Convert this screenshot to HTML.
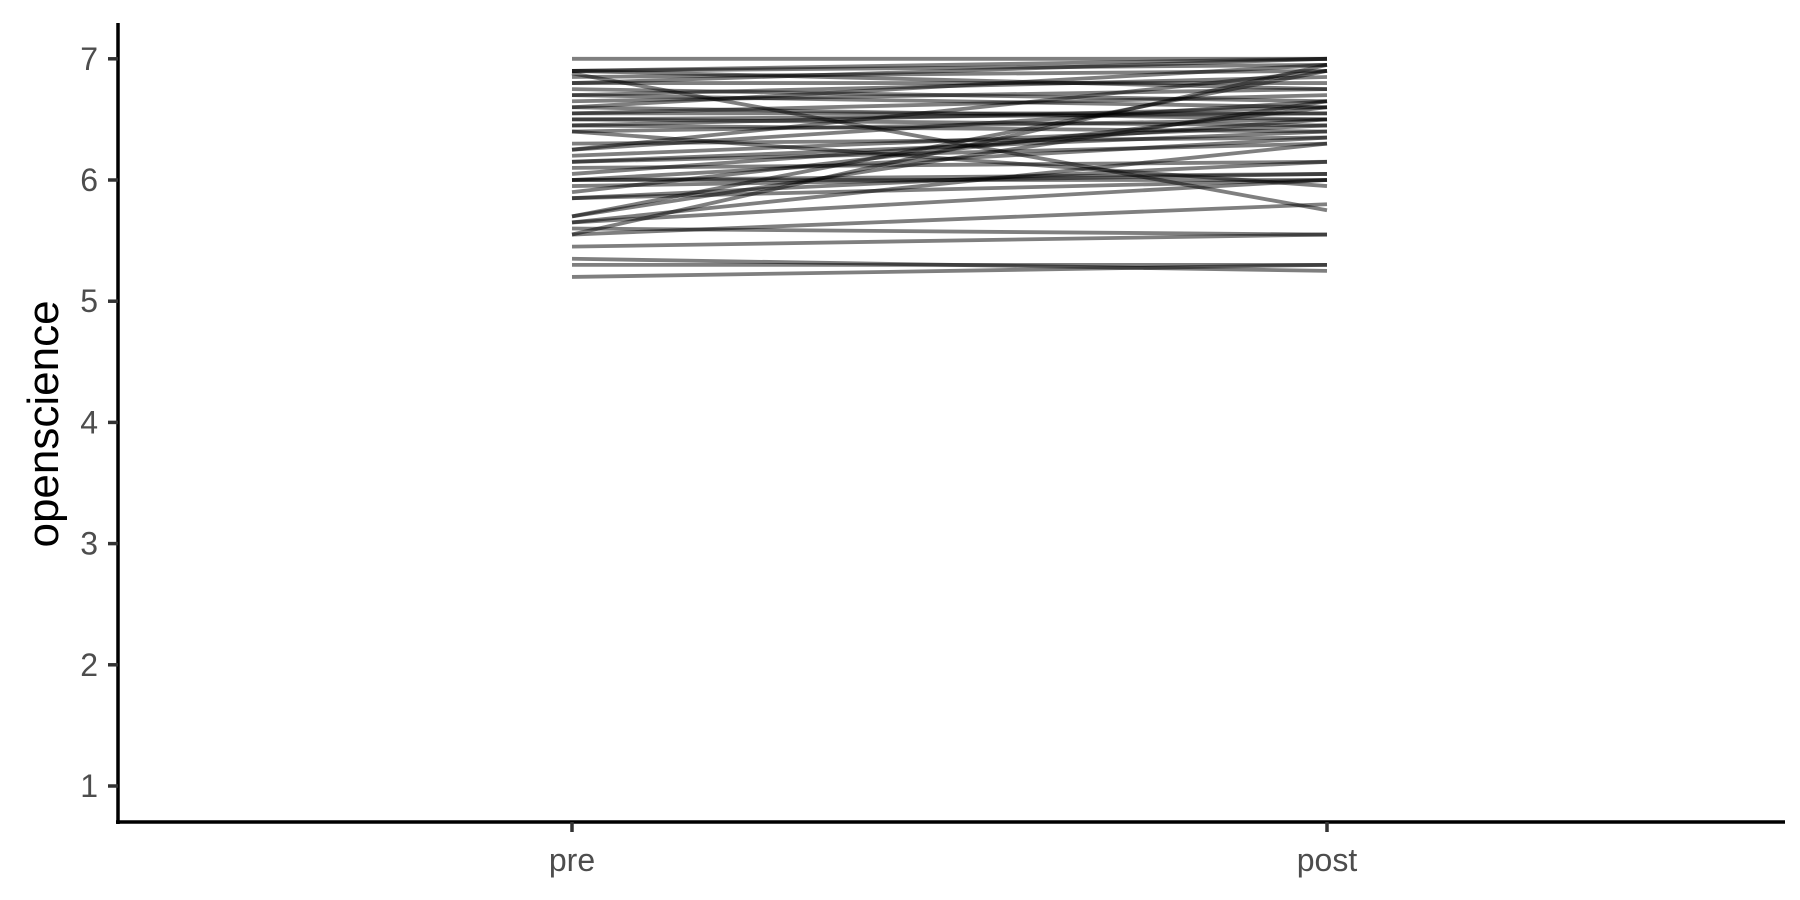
<!DOCTYPE html>
<html><head><meta charset="utf-8"><style>
html,body{margin:0;padding:0;background:#fff;}
svg{display:block;font-family:"Liberation Sans",sans-serif;}
</style></head><body>
<svg id="chart" width="1800" height="900" viewBox="0 0 1800 900" xmlns="http://www.w3.org/2000/svg">
<g id="lines"></g>
<g id="axes"></g>
</svg>
<script>
const categories = ["pre","post"];
const yTicks = [1,2,3,4,5,6,7];
const preValues  = [7.0,6.9,6.9,6.88,6.85,6.8,6.8,6.75,6.7,6.7,6.65,6.6,6.6,6.55,6.5,6.5,6.45,6.45,6.4,6.4,6.3,6.25,6.25,6.2,6.15,6.15,6.1,6.05,6.0,6.0,5.95,5.9,5.85,5.85,5.7,5.7,5.65,5.65,5.6,5.55,5.55,5.45,5.35,5.3,5.2,6.9,6.55,6.0];
const postValues = [7.0,6.95,7.0,5.75,6.9,6.8,7.0,6.65,6.85,6.6,6.75,6.5,6.95,6.7,6.55,6.45,6.4,6.6,5.95,6.5,6.35,6.65,6.9,6.45,6.3,6.4,6.15,6.5,6.0,6.35,6.05,6.6,6.0,6.15,6.65,6.9,6.0,6.3,5.55,5.8,6.95,5.55,5.25,5.3,5.3,6.75,6.55,6.05];
const NS="http://www.w3.org/2000/svg";
const xLeft=118, xRight=1785, yAxisTop=23, yAxisBottom=822;
function xPos(i){ return 572 + i*(1327-572); }
function yPos(v){ return 786 - (v-1)*121.2; }
function mk(tag,attrs,parent){const e=document.createElementNS(NS,tag);for(const k in attrs)e.setAttribute(k,attrs[k]);parent.appendChild(e);return e;}
const lg=document.getElementById('lines');
for(let i=0;i<preValues.length;i++){
  const l=mk('line',{x1:xPos(0),y1:yPos(preValues[i]),x2:xPos(1),y2:yPos(postValues[i]),stroke:'#000','stroke-opacity':0.5,'stroke-width':3.8},lg);
  
  
}
const ax=document.getElementById('axes');
const ya=mk('line',{x1:xLeft,y1:yAxisTop,x2:xLeft,y2:yAxisBottom+2,stroke:'#000','stroke-width':3.5},ax);


const xa=mk('line',{x1:xLeft-2,y1:yAxisBottom,x2:xRight,y2:yAxisBottom,stroke:'#000','stroke-width':3.5},ax);


yTicks.forEach(v=>{
  const t=mk('line',{x1:xLeft-10,y1:yPos(v),x2:xLeft,y2:yPos(v),stroke:'#333','stroke-width':3.5},ax);
  
  
  const tx=mk('text',{x:98,y:yPos(v)+11,'text-anchor':'end','font-size':32,fill:'#4d4d4d'},ax);
  
  
  tx.textContent=v;
});
categories.forEach((c,i)=>{
  const t=mk('line',{x1:xPos(i),y1:yAxisBottom,x2:xPos(i),y2:yAxisBottom+10,stroke:'#333','stroke-width':3.5},ax);
  
  
  const tx=mk('text',{x:xPos(i),y:871,'text-anchor':'middle','font-size':32,fill:'#4d4d4d'},ax);
  
  
  tx.textContent=c;
});
const title=mk('text',{x:0,y:0,'text-anchor':'middle','font-size':44,fill:'#000',transform:'translate(58,424) rotate(-90)'},ax);


title.textContent='openscience';
</script>
</body></html>
